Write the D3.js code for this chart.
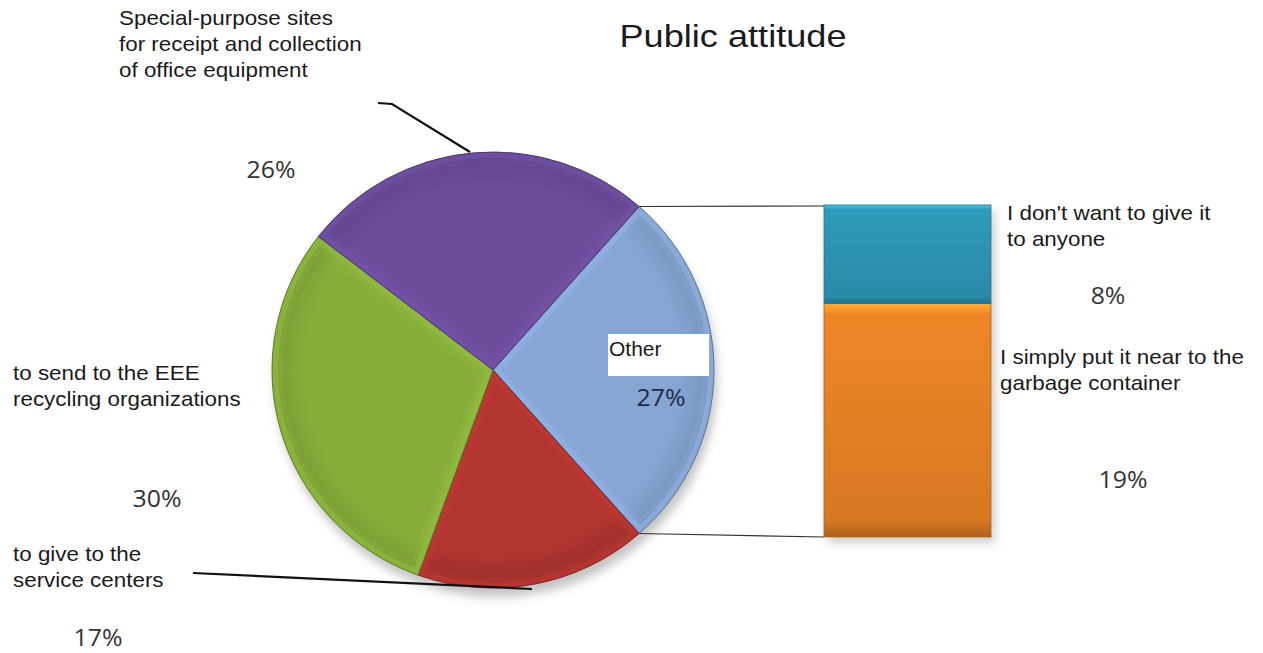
<!DOCTYPE html>
<html>
<head>
<meta charset="utf-8">
<script src="https://cdn.jsdelivr.net/npm/d3@7"></script>
<style>
  body { margin: 0; background: #fff; }
  svg { display: block; }
  .lbl { font-family: "Liberation Sans", Arial, sans-serif; font-size: 20px; fill: #1a1a1a; }
  .pct { font-family: "Open Sans", sans-serif; font-size: 23px; fill: #333; }
</style>
</head>
<body>
<svg id="chart" width="1263" height="653"></svg>
<script>
// Pie slices, clockwise from the split-out "Other" slice
var pieCats = ["Other", "to give to the service centers", "to send to the EEE recycling organizations", "Special-purpose sites for receipt and collection of office equipment"];
var pieValues = [27, 17, 30, 26];
var pieColors = ["#86a5d3", "#b03430", "#87ae3b", "#6c4c9b"];

// Breakdown of "Other", bottom to top
var barCats = ["I simply put it near to the garbage container", "I don't want to give it to anyone"];
var barValues = [19, 8];
var barColors = ["#ef8626", "#2f9abb"];

var svg = d3.select("#chart");
var defs = svg.append("defs");

var cx = 493, cy = 370, rx = 221, ry = 218;
var r = rx;
var otherShare = pieValues[0] / d3.sum(pieValues);
var start = Math.PI / 2 - otherShare * Math.PI;

// Gradients
pieColors.forEach(function (c, i) {
  var g = defs.append("radialGradient").attr("id", "pg" + i)
    .attr("gradientUnits", "userSpaceOnUse")
    .attr("cx", 0).attr("cy", 0).attr("r", r);
  g.append("stop").attr("offset", "0%").attr("stop-color", c);
  g.append("stop").attr("offset", "85%").attr("stop-color", c);
  g.append("stop").attr("offset", "100%").attr("stop-color", d3.color(c).darker(0.35));
});
barColors.forEach(function (c, i) {
  var g = defs.append("linearGradient").attr("id", "bg" + i)
    .attr("x1", 0).attr("y1", 0).attr("x2", 0).attr("y2", 1);
  g.append("stop").attr("offset", "0%").attr("stop-color", d3.color(c).brighter(0.7));
  g.append("stop").attr("offset", "5%").attr("stop-color", c);
  g.append("stop").attr("offset", "93%").attr("stop-color", d3.color(c).darker(0.3));
  g.append("stop").attr("offset", "100%").attr("stop-color", d3.color(c).darker(0.9));
});
var blur = defs.append("filter").attr("id", "shadow")
  .attr("x", "-20%").attr("y", "-20%").attr("width", "140%").attr("height", "140%");
blur.append("feGaussianBlur").attr("stdDeviation", 5);

// Stretched text helper
function stretched(x, y, cls, anchor, sx) {
  return svg.append("g").attr("transform", "translate(" + x + "," + y + ") scale(" + sx + ",1)")
    .append("text").attr("class", cls).attr("text-anchor", anchor);
}

// Title
stretched(733, 47, "lbl", "middle", 1.13).style("font-size", "32px").text("Public attitude");

// Pie
var pie = d3.pie().sort(null).startAngle(start).endAngle(start + 2 * Math.PI);
var arcs = pie(pieValues);
var arc = d3.arc().innerRadius(0).outerRadius(r);

svg.append("ellipse").attr("cx", cx + 3).attr("cy", cy + 9)
  .attr("rx", rx).attr("ry", ry).attr("fill", "#c4c4c4").attr("filter", "url(#shadow)");

var pg = svg.append("g").attr("transform", "translate(" + cx + "," + cy + ") scale(1," + (ry / rx) + ")");
arcs.forEach(function (d, i) {
  defs.append("clipPath").attr("id", "clip" + i).append("path").attr("d", arc(d));
});
var slices = pg.selectAll("g.slice").data(arcs).enter().append("g").attr("class", "slice");
slices.append("path")
  .attr("d", arc)
  .attr("fill", function (d, i) { return "url(#pg" + i + ")"; });
// bevel highlight along each slice's edges
slices.append("path")
  .attr("d", arc)
  .attr("clip-path", function (d, i) { return "url(#clip" + i + ")"; })
  .attr("fill", "none")
  .attr("stroke", function (d, i) { return d3.color(pieColors[i]).brighter(0.3); })
  .attr("stroke-opacity", 0.55)
  .attr("stroke-width", 12)
  .attr("stroke-linejoin", "round");
slices.append("path")
  .attr("d", arc)
  .attr("clip-path", function (d, i) { return "url(#clip" + i + ")"; })
  .attr("fill", "none")
  .attr("stroke", function (d, i) { return d3.color(pieColors[i]).brighter(0.2); })
  .attr("stroke-width", 22)
  .attr("stroke-opacity", 0.25)
  .attr("stroke-linejoin", "round");
slices.append("path")
  .attr("d", arc)
  .attr("fill", "none")
  .attr("stroke", function (d, i) { return d3.color(pieColors[i]).darker(1.2); })
  .attr("stroke-width", 0.9);

// Stacked bar for "Other"
var barX = 824, barW = 167, barTop = 205, barBottom = 537;
var y = d3.scaleLinear().domain([0, d3.sum(barValues)]).range([barBottom, barTop]);
var stacked = [];
var acc = 0;
barValues.forEach(function (v, i) { stacked.push({ v0: acc, v1: acc + v, i: i }); acc += v; });

svg.append("rect").attr("x", barX + 4).attr("y", barTop + 6)
  .attr("width", barW).attr("height", barBottom - barTop)
  .attr("fill", "#cfcfcf").attr("filter", "url(#shadow)");
svg.selectAll("rect.seg").data(stacked).enter().append("rect")
  .attr("class", "seg")
  .attr("x", barX).attr("width", barW)
  .attr("y", function (d) { return y(d.v1); })
  .attr("height", function (d) { return y(d.v0) - y(d.v1); })
  .attr("fill", function (d) { return "url(#bg" + d.i + ")"; })
  .attr("stroke", function (d) { return d3.color(barColors[d.i]).darker(0.8); })
  .attr("stroke-width", 0.8);

// Connector lines from the "Other" slice to the bar
var a0 = arcs[0].startAngle, a1 = arcs[0].endAngle;
var p0 = [cx + rx * Math.sin(a0), cy - ry * Math.cos(a0)];
var p1 = [cx + rx * Math.sin(a1), cy - ry * Math.cos(a1)];
svg.append("line").attr("x1", p0[0]).attr("y1", p0[1]).attr("x2", barX).attr("y2", barTop + 1)
  .attr("stroke", "#333").attr("stroke-width", 1.2);
svg.append("line").attr("x1", p1[0]).attr("y1", p1[1]).attr("x2", barX).attr("y2", barBottom)
  .attr("stroke", "#333").attr("stroke-width", 1.2);

// Leader lines
var line = d3.line();
svg.append("path").attr("d", line([[378, 103], [392, 104], [470, 152]]))
  .attr("fill", "none").attr("stroke", "#111").attr("stroke-width", 2.2);
svg.append("path").attr("d", line([[193, 573], [532, 589]]))
  .attr("fill", "none").attr("stroke", "#111").attr("stroke-width", 2.2);

// Category labels
var catLayout = [
  { lines: ["Special-purpose sites", "for receipt and collection", "of office equipment"], x: 119, y: 25 },
  { lines: ["to send to the EEE", "recycling organizations"], x: 13, y: 380 },
  { lines: ["to give to the", "service centers"], x: 13, y: 561 },
  { lines: ["I don't want to give it", "to anyone"], x: 1007, y: 220 },
  { lines: ["I simply put it near to the", "garbage container"], x: 1000, y: 364 }
];
catLayout.forEach(function (c) {
  var t = stretched(c.x, c.y, "lbl", "start", 1.12);
  c.lines.forEach(function (s, i) {
    t.append("tspan").attr("x", 0).attr("dy", i ? 26 : 0).text(s);
  });
});

// "Other" label on white box
svg.append("rect").attr("x", 608).attr("y", 334).attr("width", 101).attr("height", 42).attr("fill", "#fff");
stretched(609, 356, "lbl", "start", 1.05).text(pieCats[0]);

// Percent labels
var pctLayout = [
  { v: pieValues[0], x: 661, y: 406, c: "#1e2748" },
  { v: pieValues[1], x: 98, y: 646, c: "#333" },
  { v: pieValues[2], x: 157, y: 507, c: "#333" },
  { v: pieValues[3], x: 271, y: 178, c: "#333" },
  { v: barValues[1], x: 1108, y: 304, c: "#333" },
  { v: barValues[0], x: 1123, y: 488, c: "#333" }
];
pctLayout.forEach(function (d) {
  stretched(d.x, d.y, "pct", "middle", 1.08).style("fill", d.c).text(d.v + "%");
});
</script>
</body>
</html>
